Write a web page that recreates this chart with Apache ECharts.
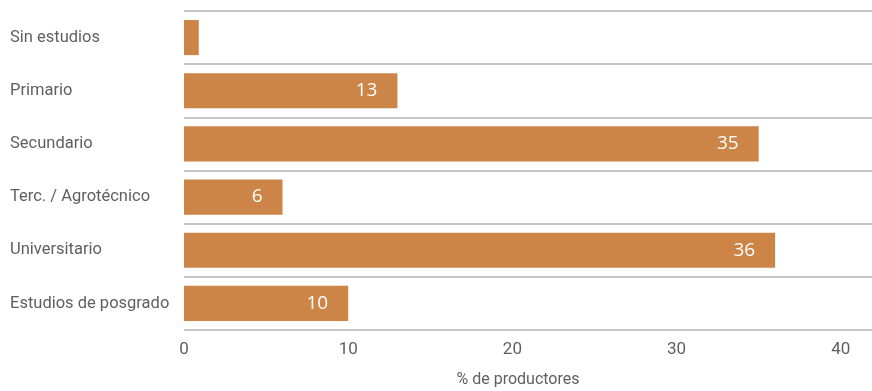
<!DOCTYPE html>
<html>
<head>
<meta charset="utf-8">
<script src="https://cdn.jsdelivr.net/npm/echarts@6/dist/echarts.min.js"></script>
<style>
  html, body { margin: 0; padding: 0; background: #fff; }
  #chart { width: 872px; height: 391px; }
</style>
</head>
<body>
<div id="chart"></div>
<script>
// Nivel educativo de los productores
const categories = [
  'Sin estudios',
  'Primario',
  'Secundario',
  'Terc. / Agrotécnico',
  'Universitario',
  'Estudios de posgrado'
];
const shares = [0.9, 13, 35, 6, 36, 10];
const xTicks = [0, 10, 20, 30, 40];
const xName = '% de productores';

const labelFont = 'Roboto, "Liberation Sans", sans-serif';
const textColor = '#5f5f5f';
const barColor = '#CC8547';

const chart = echarts.init(document.getElementById('chart'), null, { renderer: 'canvas' });

chart.setOption({
  animation: false,
  backgroundColor: '#fff',
  grid: {
    left: 184, right: 0, top: 11, bottom: 61,
    containLabel: false,
    outerBoundsMode: 'none'
  },
  xAxis: {
    type: 'value',
    min: xTicks[0],
    max: 41.9,
    interval: xTicks[1] - xTicks[0],
    axisLine: { show: false },
    axisTick: { show: false },
    splitLine: { show: false },
    axisLabel: {
      showMaxLabel: false,
      margin: 11,
      color: textColor,
      fontFamily: labelFont,
      fontSize: 17
    },
    name: xName,
    nameLocation: 'middle',
    nameGap: 42,
    nameTextStyle: {
      color: textColor,
      fontFamily: labelFont,
      fontSize: 16,
      padding: [0, 20, 0, 0]
    }
  },
  yAxis: {
    type: 'category',
    data: categories,
    inverse: true,
    axisLine: { show: false },
    axisTick: { show: false },
    splitLine: { show: true, lineStyle: { color: '#b5b5b5', width: 1.5 } },
    axisLabel: {
      align: 'left',
      margin: 174,
      color: textColor,
      fontFamily: labelFont,
      fontSize: 16.5
    }
  },
  series: [{
    type: 'bar',
    data: shares.map(v => ({ value: v, label: { show: v >= 2 } })),
    barCategoryGap: '34%',
    itemStyle: { color: barColor },
    label: {
      position: 'insideRight',
      distance: 20,
      color: '#fff',
      fontFamily: '"Open Sans", sans-serif',
      fontSize: 19
    }
  }]
});
</script>
</body>
</html>
